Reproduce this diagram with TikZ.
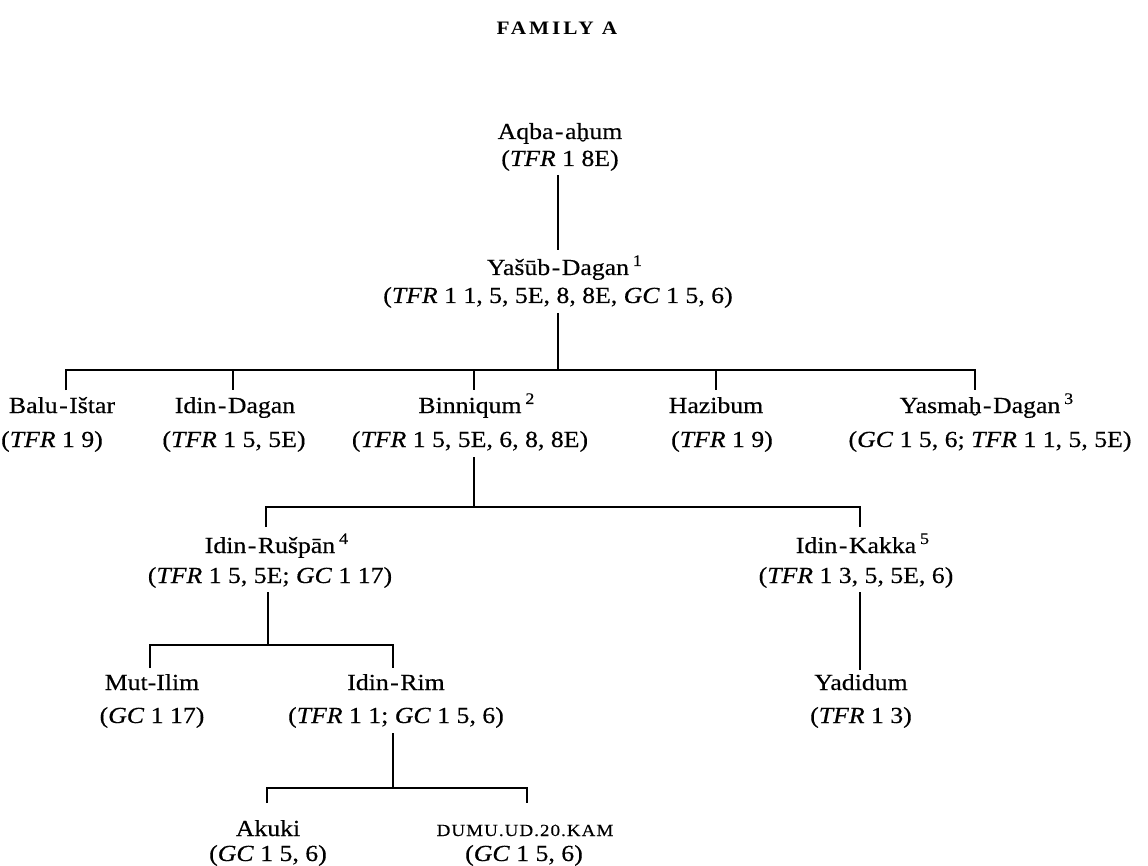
\documentclass[tikz,border=0pt]{standalone}
\usepackage{fontspec}
\setmainfont{Liberation Serif}[FakeStretch=1.12,FakeBold=0.4]
\newfontfamily\titlefont{Liberation Serif}[FakeStretch=1.12,LetterSpace=15]
\newfontfamily\scfont{Liberation Serif}[FakeStretch=1.12,LetterSpace=6,FakeBold=0.4]
\newcommand\myhy{\kern1.5pt-\kern1.5pt}
\newcommand\myhb{\leavevmode\ooalign{h\cr\hidewidth\raisebox{-0.52em}[0pt][0pt]{\scalebox{0.75}{\char"02D8}}\hidewidth\cr}}
\newcommand\mysup[1]{\rlap{\,\textsuperscript{#1}}}
\begin{document}
\begin{tikzpicture}[x=1pt,y=-1pt,
  nm/.style={anchor=base, inner sep=0pt, font=\fontsize{23}{27}\selectfont},
  ttl/.style={anchor=base, inner sep=0pt, font=\fontsize{19}{22}\selectfont\titlefont\bfseries},
  ln/.style={line width=1.5pt},
  stem/.style={line width=1.9pt}]
\useasboundingbox[fill=white] (0,0) rectangle (1148,866);

% title
\node[ttl] (title) at (557,35) {FAMILY A};

% generation 0
\node[nm] (aqba)  at (560,139) {Aqba\myhy a\myhb um};
\node[nm] (aqbaR) at (560,166) {(\textit{TFR} 1 8E)};
% generation 1
\node[nm] (yasub)  at (558,275) {Yašūb\myhy Dagan\mysup{1}};
\node[nm] (yasubR) at (558,303) {(\textit{TFR} 1 1, 5, 5E, 8, 8E, \textit{GC} 1 5, 6)};
% generation 2
\node[nm] (balu)  at (62,413) {Balu\myhy Ištar};
\node[nm] (baluR) at (52,447) {(\textit{TFR} 1 9)};
\node[nm] (idag)  at (235,413) {Idin\myhy Dagan};
\node[nm] (idagR) at (234,447) {(\textit{TFR} 1 5, 5E)};
\node[nm] (binn)  at (470,413) {Binniqum\mysup{2}};
\node[nm] (binnR) at (470,447) {(\textit{TFR} 1 5, 5E, 6, 8, 8E)};
\node[nm] (hazi)  at (716,413) {Hazibum};
\node[nm] (haziR) at (722,447) {(\textit{TFR} 1 9)};
\node[nm] (yasm)  at (980,413) {Yasma\myhb\myhy Dagan\mysup{3}};
\node[nm] (yasmR) at (990,447) {(\textit{GC} 1 5, 6; \textit{TFR} 1 1, 5, 5E)};
% generation 3
\node[nm] (rusp)  at (270,553) {Idin\myhy Rušpān\mysup{4}};
\node[nm] (ruspR) at (270,583) {(\textit{TFR} 1 5, 5E; \textit{GC} 1 17)};
\node[nm] (kakk)  at (856,553) {Idin\myhy Kakka\mysup{5}};
\node[nm] (kakkR) at (856,583) {(\textit{TFR} 1 3, 5, 5E, 6)};
% generation 4
\node[nm] (muti)  at (152,690) {Mut-Ilim};
\node[nm] (mutiR) at (152,723) {(\textit{GC} 1 17)};
\node[nm] (irim)  at (396,690) {Idin\myhy Rim};
\node[nm] (irimR) at (396,723) {(\textit{TFR} 1 1; \textit{GC} 1 5, 6)};
\node[nm] (yadi)  at (861,690) {Yadidum};
\node[nm] (yadiR) at (861,723) {(\textit{TFR} 1 3)};
% generation 5
\node[nm] (akuk)  at (268,836) {Akuki};
\node[nm] (akukR) at (268,861) {(\textit{GC} 1 5, 6)};
\node[nm] (dumu)  at (525,836) {{\fontsize{17}{20}\selectfont\scfont DUMU.UD.20.KAM}};
\node[nm] (dumuR) at (524,861) {(\textit{GC} 1 5, 6)};

% junction coordinates
\coordinate (a1) at (558,175); \coordinate (a2) at (558,250);
\coordinate (b1) at (558,313); \coordinate (b2) at (558,370);
\coordinate (bL) at (66,370);  \coordinate (bR) at (975,370);
\coordinate (t1) at (66,390);  \coordinate (t2) at (233,390);
\coordinate (t3) at (474,390); \coordinate (t4) at (716,390);
\coordinate (t5) at (975,390);
\coordinate (u2b) at (233,370); \coordinate (u3b) at (474,370); \coordinate (u4b) at (716,370);
\coordinate (c1) at (474,457); \coordinate (c2) at (474,507);
\coordinate (cL) at (266,507); \coordinate (cR) at (860,507);
\coordinate (ct1) at (266,527); \coordinate (ct2) at (860,527);
\coordinate (d1) at (268,592); \coordinate (d2) at (268,645);
\coordinate (dL) at (150,645); \coordinate (dR) at (393,645);
\coordinate (dt1) at (150,668); \coordinate (dt2) at (393,668);
\coordinate (k1) at (860,592); \coordinate (k2) at (860,670);
\coordinate (e1) at (393,733); \coordinate (e2) at (393,788);
\coordinate (eL) at (267,788); \coordinate (eR) at (527,788);
\coordinate (et1) at (267,803); \coordinate (et2) at (527,803);

% connectors
\draw[stem] (a1) -- (a2);
\draw[stem] (b1) -- (b2);
\draw[ln] (t1) -- (bL) -- (bR) -- (t5);
\draw[ln] (u2b) -- (t2);
\draw[ln] (u3b) -- (t3);
\draw[ln] (u4b) -- (t4);
\draw[stem] (c1) -- (c2);
\draw[ln] (ct1) -- (cL) -- (cR) -- (ct2);
\draw[stem] (d1) -- (d2);
\draw[ln] (dt1) -- (dL) -- (dR) -- (dt2);
\draw[stem] (k1) -- (k2);
\draw[stem] (e1) -- (e2);
\draw[ln] (et1) -- (eL) -- (eR) -- (et2);
\end{tikzpicture}
\end{document}
